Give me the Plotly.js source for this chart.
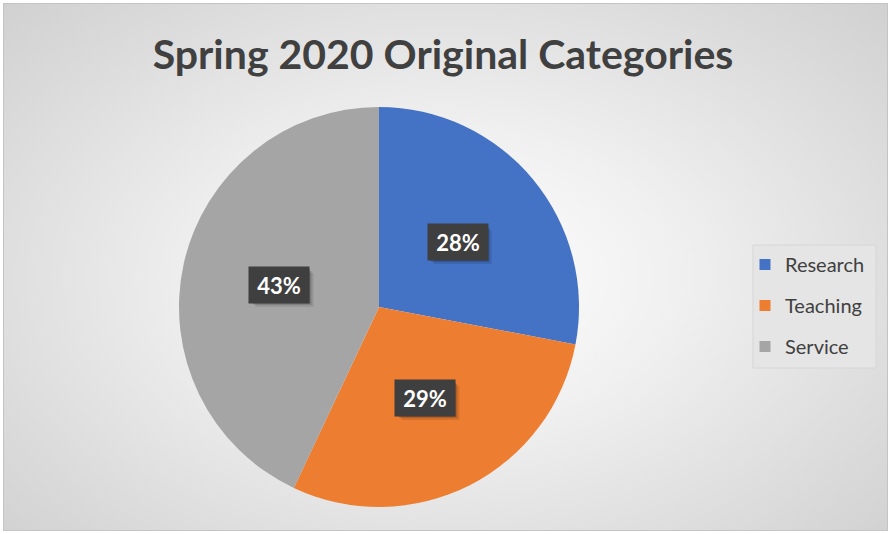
<!DOCTYPE html>
<html>
<head>
<meta charset="utf-8">
<script src="https://cdn.plot.ly/plotly-3.0.1.min.js"></script>
<style>
  html, body { margin: 0; padding: 0; background: #ffffff; }
  #bg {
    position: absolute; left: 3px; top: 3px; width: 883px; height: 526px;
    border: 1px solid #c4c4c4;
    background: radial-gradient(ellipse 75% 80% at 50% 52%, #ffffff 0%, #f0f0f0 35%, #dadada 75%, #cdcdcd 100%);
  }
  #chart { position: absolute; left: 0; top: 0; width: 891px; height: 534px; }
</style>
</head>
<body>
<div id="bg"></div>
<div id="chart"></div>
<script>
const categories = ["Research", "Teaching", "Service"];
const values = [28, 29, 43];
const colors = ["#4472C4", "#ED7D31", "#A5A5A5"];

const W = 891, H = 534;
const cx = 379, cy = 307, R = 200;
const total = values.reduce((a, b) => a + b, 0);

const pie = {
  type: "pie",
  labels: categories,
  values: values,
  sort: false,
  direction: "clockwise",
  rotation: 0,
  marker: { colors: colors, line: { width: 0 } },
  textinfo: "none",
  hoverinfo: "label+percent",
  showlegend: false,
  domain: { x: [(cx - R) / W, (cx + R) / W], y: [1 - (cy + R) / H, 1 - (cy - R) / H] }
};

// legend entries (one per category) so spacing between them can be set
const legendTraces = categories.map((c, i) => ({
  type: "scatter", mode: "markers", x: [null], y: [null],
  name: c, legendgroup: "g" + i,
  marker: { symbol: "square", size: 11, color: colors[i] },
  hoverinfo: "skip"
}));

// legend frame
const shapes = [{ type: "rect", xref: "paper", yref: "paper", layer: "below",
  x0: 753 / W, x1: 876 / W, y0: 1 - 368 / H, y1: 1 - 245 / H,
  fillcolor: "#e5e5e5", line: { color: "#d6d6d6", width: 1 } }];

// data labels placed at the middle angle of each slice, with a soft shadow box
const annotations = [];
const bw = 58, bh = 34;
let cum = 0;
values.forEach((v, i) => {
  const mid = (cum + v / 2) / total * 2 * Math.PI;
  cum += v;
  const d = 0.51 * R;
  const px = cx + d * Math.sin(mid);
  const py = cy - d * Math.cos(mid);
  const txt = Math.round(v / total * 100) + "%";
  [[5, 0.10], [3, 0.16], [1.5, 0.2]].forEach(([o, a]) => {
    shapes.push({ type: "rect", xref: "paper", yref: "paper", line: { width: 0 },
      fillcolor: "rgba(0,0,0," + a + ")",
      x0: (px - bw / 2 + o) / W, x1: (px + bw / 2 + o) / W,
      y0: 1 - (py + bh / 2 + o) / H, y1: 1 - (py - bh / 2 + o) / H });
  });
  annotations.push({ xref: "paper", yref: "paper", x: px / W, y: 1 - py / H,
    xanchor: "center", yanchor: "middle", showarrow: false, width: bw, height: bh,
    text: "<b>" + txt + "</b>",
    font: { family: "Lato, 'Open Sans', sans-serif", color: "#ffffff", size: 22 },
    bgcolor: "#3f3f3f" });
});

const layout = {
  width: W, height: H,
  margin: { l: 0, r: 0, t: 0, b: 0 },
  paper_bgcolor: "rgba(0,0,0,0)",
  plot_bgcolor: "rgba(0,0,0,0)",
  title: {
    text: "<b>Spring 2020 Original Categories</b>",
    font: { family: "Lato, 'Open Sans', sans-serif", size: 41, color: "#404040" },
    x: 443 / W, xanchor: "center", xref: "paper",
    y: 1 - 55 / H, yanchor: "middle", yref: "paper"
  },
  xaxis: { visible: false, domain: [0, 0.01] },
  yaxis: { visible: false, domain: [0, 0.01] },
  showlegend: true,
  legend: {
    x: 745 / W, y: 1 - 245 / H, xanchor: "left", yanchor: "top",
    bgcolor: "rgba(0,0,0,0)", borderwidth: 0,
    font: { family: "Lato, 'Open Sans', sans-serif", size: 20, color: "#404040" },
    itemwidth: 30,
    tracegroupgap: 12, itemclick: false, itemdoubleclick: false
  },
  shapes: shapes,
  annotations: annotations
};

Plotly.newPlot("chart", [pie].concat(legendTraces), layout, { displayModeBar: false, staticPlot: true });
</script>
</body>
</html>
